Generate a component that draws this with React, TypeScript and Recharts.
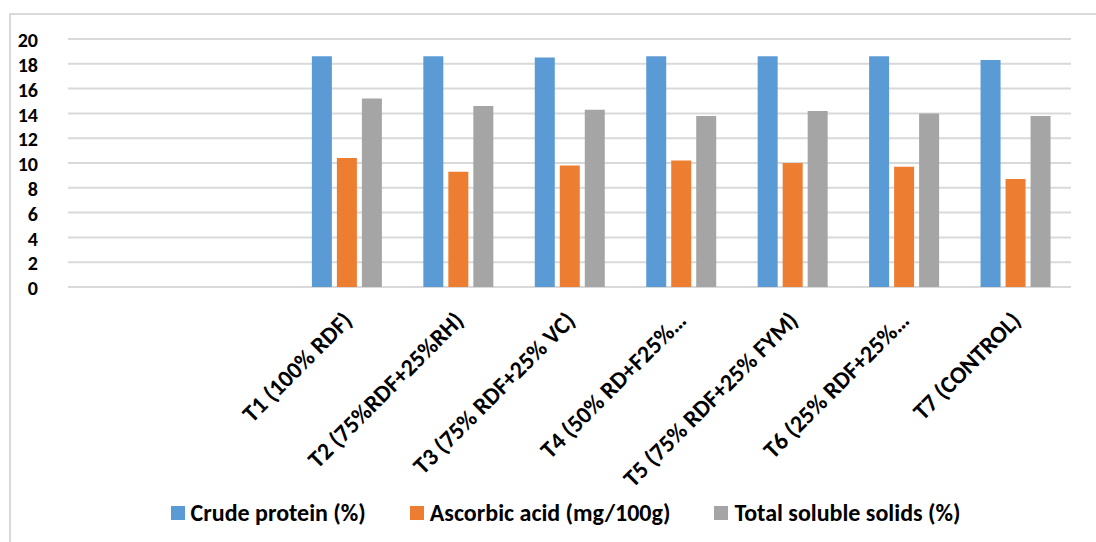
import React from 'react';
import { Bar, BarChart, CartesianGrid, Legend, XAxis, YAxis } from 'recharts';

// Two leading empty categories, as in the original sheet
const categories = [
  '',
  '',
  'T1 (100% RDF)',
  'T2 (75%RDF+25%RH)',
  'T3 (75% RDF+25% VC)',
  'T4 (50% RD+F25%…',
  'T5 (75% RDF+25% FYM)',
  'T6 (25% RDF+25%…',
  'T7 (CONTROL)',
];

const crudeProtein = [null, null, 18.6, 18.6, 18.5, 18.6, 18.6, 18.6, 18.3];
const ascorbicAcid = [null, null, 10.4, 9.3, 9.8, 10.2, 10.0, 9.7, 8.7];
const totalSolubleSolids = [null, null, 15.2, 14.6, 14.3, 13.8, 14.2, 14.0, 13.8];

const yTicks = [0, 2, 4, 6, 8, 10, 12, 14, 16, 18, 20];

const series = [
  { key: 'crude', name: 'Crude protein (%)', color: '#5B9BD5' },
  { key: 'ascorbic', name: 'Ascorbic acid (mg/100g)', color: '#ED7D31' },
  { key: 'tss', name: 'Total soluble solids (%)', color: '#A5A5A5' },
];

const data = categories.map((name, i) => ({
  name,
  crude: crudeProtein[i],
  ascorbic: ascorbicAcid[i],
  tss: totalSolubleSolids[i],
}));

const FONT = 'Carlito, Lato, sans-serif';
const FS = 24;

const AngledTick = (props: any) => {
  const { x, y, payload } = props;
  if (!payload.value) return null;
  return (
    <g transform={`translate(${x + 7},${y + 27})`}>
      <text
        x={0}
        y={0}
        textAnchor="end"
        transform="rotate(-45)"
        fill="#000"
        fontSize={FS}
        fontWeight={700}
        fontFamily={FONT}
      >
        {payload.value}
      </text>
    </g>
  );
};

const LegendContent = () => (
  <div style={{ display: 'flex', justifyContent: 'center', gap: 44, paddingLeft: 52, paddingTop: 6, fontFamily: FONT }}>
    {series.map((s) => (
      <div key={s.key} style={{ display: 'flex', alignItems: 'center' }}>
        <span style={{ width: 14, height: 14, background: s.color, display: 'inline-block', marginRight: 6 }} />
        <span style={{ fontSize: FS, fontWeight: 700, color: '#000' }}>{s.name}</span>
      </div>
    ))}
  </div>
);

export default function App() {
  return (
    <div style={{ position: 'absolute', left: 0, top: 0, width: 1096, height: 542, background: '#fff', overflow: 'hidden' }}>
      <div
        style={{
          position: 'absolute',
          left: 9,
          top: 13,
          width: 1200,
          height: 600,
          borderTop: '2px solid #d9d9d9',
          borderLeft: '2px solid #d9d9d9',
        }}
      />
      <div style={{ position: 'absolute', left: 0, top: 0 }}>
        <BarChart
          width={1096}
          height={542}
          data={data}
          margin={{ top: 39, right: 25, left: 8, bottom: 10 }}
          barSize={20}
          barGap={5}
        >
          <CartesianGrid vertical={false} stroke="#d9d9d9" strokeWidth={2} />
          <XAxis
            dataKey="name"
            axisLine={false}
            tickLine={false}
            interval={0}
            height={205}
            tick={<AngledTick />}
          />
          <YAxis
            domain={[0, 20]}
            ticks={yTicks}
            interval={0}
            width={60}
            axisLine={false}
            tickLine={false}
            tickMargin={24}
            tick={{ fontSize: 20, fontWeight: 700, fill: '#000', fontFamily: FONT, dy: 1 }}
          />
          <Legend verticalAlign="bottom" height={40} content={<LegendContent />} />
          {series.map((s) => (
            <Bar key={s.key} dataKey={s.key} name={s.name} fill={s.color} isAnimationActive={false} />
          ))}
        </BarChart>
      </div>
    </div>
  );
}
